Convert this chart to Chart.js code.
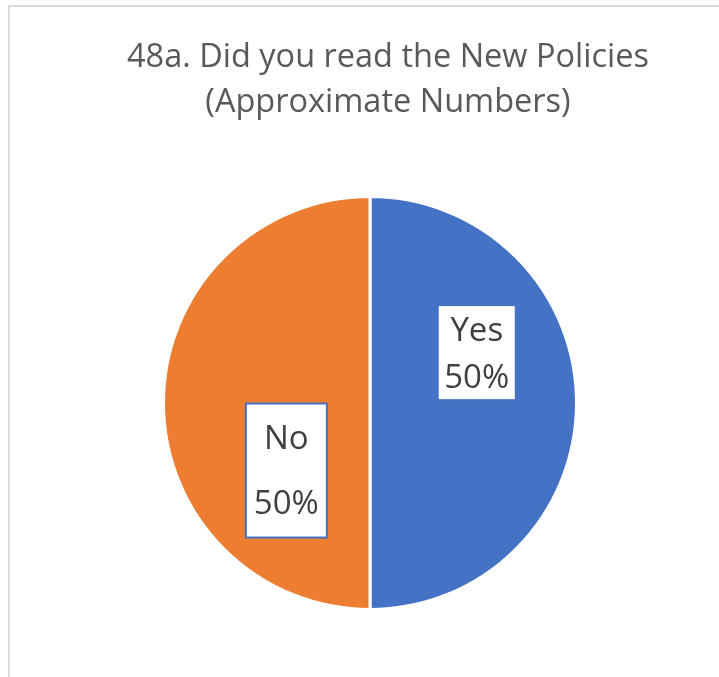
<!DOCTYPE html>
<html>
<head>
<meta charset="utf-8">
<script src="https://cdn.jsdelivr.net/npm/chart.js@4.4.1/dist/chart.umd.min.js"></script>
<style>
  html, body { margin: 0; padding: 0; background: #fff; }
  #wrap { width: 719px; height: 677px; }
</style>
</head>
<body>
<div id="wrap"><canvas id="chart1" width="719" height="677"></canvas></div>
<script>
// dati
const categories = ['Yes', 'No'];
const values = [50, 50];
const titleLines = ['48a. Did you read the New Policies', '(Approximate Numbers)'];

const colors = ['#4472C4', '#ED7D31'];
const FONT = "'Open Sans', 'Noto Sans', sans-serif";

// etiķešu kastīšu novietojums attiecībā pret centru (rādiusa daļās)
const boxPos = [
    { dx: 0.517, dy: -0.244, w: 78, h: 95, gap: 47 },
    { dx: -0.405, dy: 0.327, w: 81, h: 134, gap: 65 }
];

// rāmis un virsraksts
const framePlugin = {
    id: 'frame',
    beforeDraw(chart) {
        const c = chart.ctx;
        c.save();
        c.fillStyle = '#fff';
        c.fillRect(0, 0, chart.width, chart.height);
        c.strokeStyle = '#d9d9d9';
        c.lineWidth = 2;
        c.beginPath();
        c.moveTo(9, chart.height);
        c.lineTo(9, 6);
        c.lineTo(chart.width, 6);
        c.stroke();

        c.fillStyle = '#595959';
        c.font = '32.5px ' + FONT;
        c.textAlign = 'center';
        c.textBaseline = 'middle';
        c.fillText(titleLines[0], 388, 58);
        c.fillText(titleLines[1], 388, 103);
        c.restore();
    }
};

// datu etiķetes baltās kastītēs
const labelPlugin = {
    id: 'boxLabels',
    afterDatasetsDraw(chart) {
        const c = chart.ctx;
        const meta = chart.getDatasetMeta(0);
        const total = values.reduce((a, b) => a + b, 0);
        meta.data.forEach((arc, i) => {
            const p = boxPos[i];
            const r = arc.outerRadius;
            const cx = arc.x + p.dx * r;
            const cy = arc.y + p.dy * r;
            c.save();
            c.fillStyle = '#fff';
            c.fillRect(cx - p.w / 2, cy - p.h / 2, p.w, p.h);
            c.strokeStyle = '#4472C4';
            c.lineWidth = 2;
            c.strokeRect(cx - p.w / 2, cy - p.h / 2, p.w, p.h);
            c.fillStyle = '#404040';
            c.font = '33px ' + FONT;
            c.textAlign = 'center';
            c.textBaseline = 'middle';
            const pct = Math.round(values[i] / total * 100) + '%';
            c.fillText(categories[i], cx, cy - p.gap / 2 + 2);
            c.fillText(pct, cx, cy + p.gap / 2 + 2);
            c.restore();
        });
    }
};

new Chart(document.getElementById('chart1'), {
    type: 'pie',
    data: {
        labels: categories,
        datasets: [{
            data: values,
            backgroundColor: colors,
            borderColor: '#fff',
            borderWidth: 3
        }]
    },
    options: {
        responsive: false,
        animation: false,
        layout: { padding: { left: 162, right: 141, top: 195, bottom: 66 } },
        plugins: {
            legend: { display: false },
            tooltip: { enabled: false },
            title: { display: false }
        }
    },
    plugins: [framePlugin, labelPlugin]
});
</script>
</body>
</html>
